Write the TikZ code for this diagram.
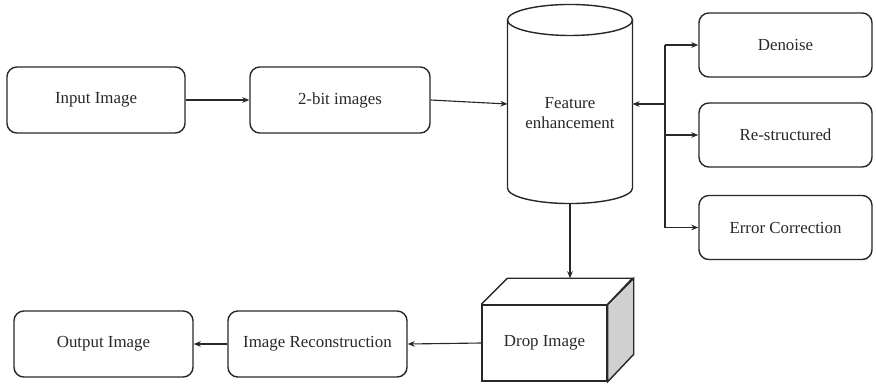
\documentclass[tikz,border=0pt]{standalone}
\usepackage[RGB]{xcolor}
\usepackage{fontspec}
\setmainfont{Liberation Serif}
\usetikzlibrary{arrows.meta,calc}
\definecolor{ink}{RGB}{40,40,40}
\definecolor{side}{RGB}{208,208,208}
\tikzset{
  stepbox/.style={draw=ink, line width=1pt, rounded corners=7pt, minimum width=4.45cm, minimum height=1.65cm,
    font=\fontsize{12}{14.2}\selectfont, text=ink},
  outline/.style={draw=ink, line width=1pt},
  arr/.style={draw=ink, line width=.8pt, -{Stealth[length=5pt,width=4pt]}},
  plain/.style={draw=ink, line width=.8pt}
}
\newcommand{\drawarrow}{\draw[arr]}
\newcommand{\cylrx}{1.5625cm}
\newcommand{\cylry}{.3875cm}
\begin{document}
\begin{tikzpicture}[x=0.025cm,y=-0.025cm]
\useasboundingbox (0,0) rectangle (876,384);
\node[stepbox] (input) at (96,100) {Input Image};
\node[stepbox, minimum width=4.5cm] (twobit) at (340,100) {2-bit images};
\node[minimum width=3.125cm, minimum height=4.2cm, inner sep=0pt, outer sep=0pt] (feat) at (570,104) {};
\draw[outline] (feat.north) ellipse[x radius=\cylrx, y radius=\cylry];
\draw[outline] (feat.north west) -- (feat.south west) arc[start angle=180, end angle=360, x radius=\cylrx, y radius=\cylry] -- (feat.north east);
\node[font=\fontsize{12}{14.2}\selectfont, text=ink, align=center] (featlbl) at (570,113) {Feature\\enhancement};
\node[stepbox, minimum width=4.325cm, minimum height=1.6cm] (denoise) at (785.5,45) {Denoise};
\node[stepbox, minimum width=4.325cm, minimum height=1.6cm] (restruct) at (785.5,135) {Re-structured};
\node[stepbox, minimum width=4.325cm, minimum height=1.6cm] (errcorr) at (785.5,227.5) {Error Correction};
\node[stepbox, minimum width=4.475cm] (output) at (103.5,344) {Output Image};
\node[stepbox, minimum width=4.475cm] (recon) at (317.5,344) {Image Reconstruction};
\node[outline, minimum width=3.125cm, minimum height=1.9cm, font=\fontsize{12}{14.2}\selectfont, text=ink] (drop) at (544.5,343) {Drop Image};
\filldraw[outline, fill=side] (drop.north east) -- ++(26,-26) -- ++(0,76) -- (drop.south east) -- cycle;
\draw[outline] (drop.north west) -- ++(26,-26) -- ++(125,0) -- (drop.north east);
\coordinate (br) at (665,104);
\coordinate (featbot) at ($(feat.south)+(0,15.5)$);
\coordinate (droptop) at ($(drop.north)+(26,-26)$);
\drawarrow (input) -- (twobit);
\drawarrow (twobit.east) -- (feat.west);
\drawarrow (br) -- (feat.east);
\draw[plain] (br |- denoise.west) -- (br |- errcorr.west);
\drawarrow (br |- denoise.west) -- (denoise.west);
\drawarrow (br |- restruct.west) -- (restruct.west);
\drawarrow (br |- errcorr.west) -- (errcorr.west);
\drawarrow (featbot) -- (featbot |- droptop);
\drawarrow (drop.west) -- (recon.east);
\drawarrow (recon) -- (output);
\end{tikzpicture}
\end{document}
